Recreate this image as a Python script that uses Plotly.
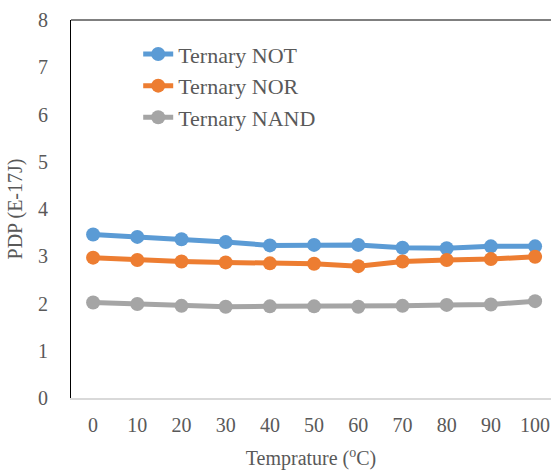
import plotly.graph_objects as go

temps = ["0", "10", "20", "30", "40", "50", "60", "70", "80", "90", "100"]
pdp_not = [3.46, 3.41, 3.36, 3.30, 3.23, 3.24, 3.24, 3.18, 3.17, 3.21, 3.21]
pdp_nor = [2.97, 2.92, 2.89, 2.87, 2.85, 2.84, 2.79, 2.89, 2.92, 2.94, 2.99]
pdp_nand = [2.02, 1.99, 1.95, 1.93, 1.94, 1.94, 1.93, 1.95, 1.97, 1.98, 2.05]

series = [
    ("Ternary NOT", pdp_not, "#5b9bd5"),
    ("Ternary NOR", pdp_nor, "#ed7d31"),
    ("Ternary NAND", pdp_nand, "#a5a5a5"),
]

FONT = "Liberation Serif, Times New Roman, serif"
TEXT = "#595959"

fig = go.Figure()
for i, (name, vals, color) in enumerate(series):
    fig.add_trace(go.Scatter(
        x=temps, y=vals, name=name, mode="lines+markers",
        line=dict(color=color, width=5),
        marker=dict(color=color, size=14),
        legendgroup=f"g{i}",
    ))

fig.update_layout(
    width=551, height=470,
    margin=dict(l=71, r=0, t=20, b=72),
    paper_bgcolor="white", plot_bgcolor="white",
    font=dict(family=FONT, size=20, color=TEXT),
    showlegend=True,
    legend=dict(
        x=0.14, y=0.965, xanchor="left", yanchor="top",
        bgcolor="rgba(0,0,0,0)", traceorder="grouped",
        tracegroupgap=0, itemwidth=30,
        font=dict(family=FONT, size=22, color=TEXT),
    ),
    xaxis=dict(
        type="category", range=[-0.5, 10.36],
        showgrid=False, zeroline=False,
        showline=True, linecolor="#d9d9d9", linewidth=1.5,
        ticks="", ticklabelstandoff=8,
        tickfont=dict(family=FONT, size=20, color=TEXT),
        title=dict(text="Temprature (<sup>o</sup>C)", standoff=18,
                   font=dict(family=FONT, size=20, color=TEXT)),
    ),
    yaxis=dict(
        range=[0, 8], dtick=1,
        showgrid=False, zeroline=False,
        showline=True, linecolor="black", linewidth=1,
        ticks="", ticklabelstandoff=18,
        tickfont=dict(family=FONT, size=20, color=TEXT),
        title=dict(text="PDP (E-17J)", standoff=10,
                   font=dict(family=FONT, size=20, color=TEXT)),
    ),
)

# top border of the plot area
fig.add_shape(type="line", xref="paper", yref="paper",
              x0=0, x1=1, y0=1, y1=1,
              line=dict(color="black", width=1))

fig.write_html("out.html")
